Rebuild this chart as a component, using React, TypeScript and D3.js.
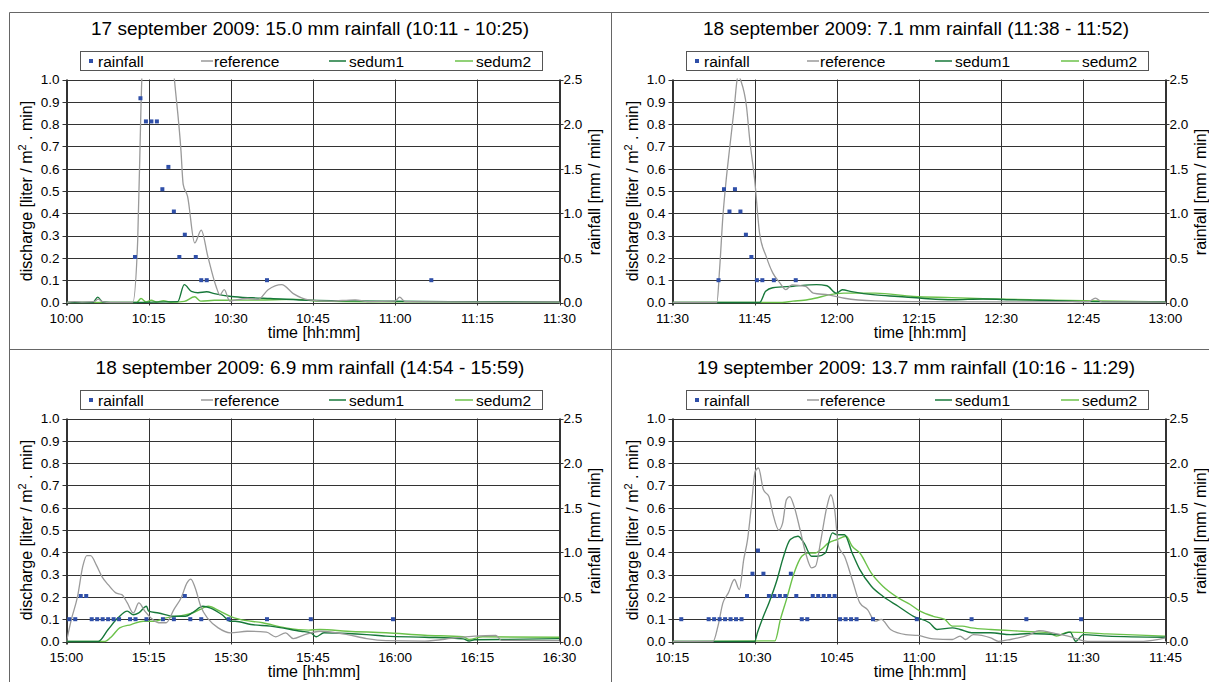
import React from 'react';
import * as d3 from 'd3';

const width = 1209;
const height = 682;
const font = '"Liberation Sans", Arial, sans-serif';

// series names + colours
const seriesNames = ['rainfall', 'reference', 'sedum1', 'sedum2'];
const colors = { rainfall: '#2f4fa8', reference: '#9a9a9a', sedum1: '#17783a', sedum2: '#6cc24a' };

const dischargeTicks = [0, 0.1, 0.2, 0.3, 0.4, 0.5, 0.6, 0.7, 0.8, 0.9, 1.0];
const rainTicks = [0, 0.5, 1.0, 1.5, 2.0, 2.5];

// ---- panel 1 : 17 sept 2009, 10:00 - 11:30  (minutes after start, value)
const p1Title = '17 september 2009: 15.0 mm rainfall (10:11 - 10:25)';
const p1Start = new Date(2009, 8, 17, 10, 0);
const p1Rain = [[12.5, 0.51], [13.5, 2.29], [14.5, 2.03], [15.5, 2.03], [16.5, 2.03], [17.5, 1.27], [18.6, 1.52], [19.6, 1.02], [20.6, 0.51], [21.6, 0.76], [23.6, 0.51], [24.6, 0.25], [25.6, 0.25], [36.6, 0.25], [66.6, 0.25]];
const p1Reference = [[0, 0], [1.5, 0.004], [3, 0.002], [5, 0.004], [5.8, 0.015], [6.6, 0.004], [8, 0], [12.1, 0], [13, 0.28], [13.6, 0.88], [14.2, 1.3], [16, 1.6], [18, 1.45], [19.7, 1.0], [20.9, 0.68], [21.3, 0.53], [22.1, 0.476], [23.4, 0.267], [24.6, 0.325], [25.8, 0.207], [27.3, 0.073], [28, 0.034], [28.8, 0.058], [29.8, 0.006], [31, 0.012], [33, 0.018], [35, 0.014], [36.8, 0.057], [39.3, 0.08], [41.4, 0.04], [44.2, 0.012], [48, 0.006], [52.7, 0.012], [55, 0.004], [60, 0.006], [60.8, 0.024], [61.8, 0.004], [70, 0.003], [80, 0.002], [90, 0.003]];
const p1Sedum1 = [[0, 0], [4.8, 0], [5.7, 0.024], [6.6, 0.002], [8, 0], [20.3, 0.004], [21.5, 0.08], [22.8, 0.05], [24, 0.044], [25.6, 0.048], [27, 0.04], [30.1, 0.027], [34, 0.021], [37.2, 0.018], [44.2, 0.01], [50, 0.008], [58, 0.006], [70, 0.004], [80, 0.004], [90, 0.003]];
const p1Sedum2 = [[0, 0], [12.8, 0], [13.6, 0.018], [14.5, 0.003], [15.5, 0.01], [16.4, 0.002], [17.7, 0.008], [19, 0.001], [21.5, 0.005], [23.4, 0.026], [24.5, 0.006], [27, 0.01], [35, 0.011], [42, 0.014], [46, 0.006], [55, 0.003], [70, 0.003], [90, 0.003]];

// ---- panel 2 : 18 sept 2009, 11:30 - 13:00
const p2Title = '18 september 2009: 7.1 mm rainfall (11:38 - 11:52)';
const p2Start = new Date(2009, 8, 18, 11, 30);
const p2Rain = [[8.4, 0.25], [9.4, 1.27], [10.4, 1.02], [11.4, 1.27], [12.4, 1.02], [13.4, 0.76], [14.4, 0.51], [15.4, 0.25], [16.4, 0.25], [18.5, 0.25], [22.5, 0.25]];
const p2Reference = [[0, 0], [8.1, 0], [8.6, 0.15], [9.2, 0.386], [9.8, 0.55], [10.4, 0.685], [11.3, 0.88], [11.8, 1.0], [12.1, 1.02], [12.4, 1.0], [13.5, 0.88], [14.1, 0.73], [15, 0.55], [15.9, 0.31], [17.1, 0.207], [18.3, 0.133], [19.6, 0.088], [20.7, 0.058], [21.8, 0.079], [24.3, 0.072], [25.7, 0.042], [28.5, 0.034], [31.4, 0.019], [37, 0.007], [44, 0.004], [60, 0.003], [76, 0.004], [77.2, 0.02], [78.4, 0.003], [90, 0.002]];
const p2Sedum1 = [[0, 0], [15.9, 0], [17, 0.05], [18.3, 0.066], [22, 0.073], [26.3, 0.08], [28.2, 0.075], [29.9, 0.042], [31, 0.057], [32.7, 0.049], [37, 0.034], [41.2, 0.027], [45.5, 0.019], [51.1, 0.012], [56.7, 0.016], [62.4, 0.012], [68.8, 0.009], [75.8, 0.004], [90, 0.002]];
const p2Sedum2 = [[0, 0], [20, 0], [22, 0.006], [24, 0.01], [26, 0.019], [28.5, 0.034], [31.3, 0.042], [37, 0.042], [44, 0.027], [51, 0.022], [58, 0.016], [65.3, 0.012], [72.3, 0.009], [90, 0.003]];

// ---- panel 3 : 18 sept 2009, 15:00 - 16:30
const p3Title = '18 september 2009: 6.9 mm rainfall (14:54 - 15:59)';
const p3Start = new Date(2009, 8, 18, 15, 0);
const p3Rain = [[0.5, 0.25], [1.6, 0.25], [2.6, 0.51], [3.6, 0.51], [4.6, 0.25], [5.6, 0.25], [6.6, 0.25], [7.6, 0.25], [8.6, 0.25], [9.6, 0.25], [11.6, 0.25], [12.6, 0.25], [14.6, 0.25], [17.6, 0.25], [19.6, 0.25], [21.6, 0.51], [22.6, 0.25], [24.6, 0.25], [29.6, 0.25], [36.6, 0.25], [44.6, 0.25], [59.6, 0.25]];
const p3Reference = [[0, 0], [0.9, 0.1], [2, 0.2], [3, 0.34], [3.7, 0.385], [4.4, 0.385], [5.5, 0.34], [6.5, 0.29], [7.6, 0.255], [9, 0.218], [10.1, 0.21], [11.1, 0.173], [12.2, 0.128], [13.2, 0.173], [14.3, 0.136], [15.4, 0.106], [16.8, 0.084], [18.2, 0.084], [19.6, 0.143], [21, 0.2], [22, 0.263], [22.7, 0.28], [23.5, 0.24], [24.5, 0.158], [25.9, 0.1], [27.7, 0.061], [29.9, 0.039], [33, 0.046], [36.5, 0.042], [38.2, 0.021], [40, 0.039], [41.4, 0.013], [43.5, 0.031], [46.3, 0.046], [51.3, 0.031], [54.8, 0.013], [58.3, 0.004], [65.4, 0.002], [71, 0.016], [74.5, 0.024], [78.4, 0.027], [79.4, 0.005], [90, 0.004]];
const p3Sedum1 = [[0, 0], [5.8, 0], [7.6, 0.054], [9.4, 0.106], [11.1, 0.136], [12.2, 0.12], [13.2, 0.128], [14.6, 0.158], [15, 0.136], [16.8, 0.128], [19.6, 0.113], [21.7, 0.113], [23.1, 0.131], [24.9, 0.158], [26.3, 0.15], [28.4, 0.12], [29.9, 0.091], [30.8, 0.091], [33.7, 0.076], [37.2, 0.069], [42.8, 0.046], [44.6, 0.039], [45.6, 0.021], [47, 0.039], [51.3, 0.036], [54.8, 0.031], [58.3, 0.024], [65.4, 0.019], [72.4, 0.012], [73.5, 0.002], [74.5, 0.008], [79.4, 0.009], [90, 0.013]];
const p3Sedum2 = [[0, 0], [7, 0], [8.3, 0.024], [9.7, 0.061], [11.8, 0.076], [14, 0.091], [16.1, 0.091], [18.2, 0.106], [21, 0.116], [23.1, 0.128], [24.9, 0.15], [25.9, 0.158], [28, 0.136], [29.9, 0.113], [31.5, 0.1], [35.8, 0.084], [40, 0.061], [44.2, 0.051], [46.3, 0.054], [51.3, 0.046], [58.3, 0.039], [65.4, 0.028], [72.4, 0.021], [73.5, 0.009], [76, 0.021], [90, 0.019]];

// ---- panel 4 : 19 sept 2009, 10:15 - 11:45
const p4Title = '19 september 2009: 13.7 mm rainfall (10:16 - 11:29)';
const p4Start = new Date(2009, 8, 19, 10, 15);
const p4Rain = [[1.6, 0.25], [6.6, 0.25], [7.6, 0.25], [8.6, 0.25], [9.6, 0.25], [10.6, 0.25], [11.6, 0.25], [12.6, 0.25], [13.6, 0.51], [14.6, 0.76], [15.6, 1.02], [16.6, 0.76], [17.6, 0.51], [18.6, 0.51], [19.6, 0.51], [20.6, 0.51], [21.6, 0.76], [22.6, 0.51], [23.6, 0.25], [24.6, 0.25], [25.6, 0.51], [26.6, 0.51], [27.6, 0.51], [28.6, 0.51], [29.6, 0.51], [30.6, 0.25], [31.6, 0.25], [32.6, 0.25], [33.6, 0.25], [36.6, 0.25], [44.6, 0.25], [54.6, 0.25], [64.6, 0.25], [74.6, 0.25]];
const p4Reference = [[0, 0], [7.4, 0], [8.3, 0.069], [9.2, 0.173], [10.2, 0.218], [11.3, 0.278], [12.2, 0.233], [13, 0.367], [13.7, 0.457], [14.4, 0.606], [15.1, 0.763], [15.7, 0.778], [16.6, 0.68], [17.6, 0.65], [18.3, 0.576], [19.4, 0.5], [20.1, 0.531], [20.8, 0.636], [21.4, 0.65], [22.2, 0.606], [23.3, 0.5], [24.3, 0.397], [25.4, 0.33], [26.1, 0.337], [27.1, 0.457], [28.2, 0.606], [28.9, 0.658], [29.6, 0.591], [30.3, 0.427], [31.4, 0.382], [32.8, 0.278], [34.2, 0.173], [35.6, 0.143], [37, 0.091], [38.1, 0.099], [39.8, 0.054], [42.6, 0.031], [44.8, 0.027], [47.6, 0.012], [51.1, 0.009], [52.5, 0.024], [53.5, 0.009], [54.9, 0.031], [58.1, 0.016], [59.5, 0.001], [61.7, 0.009], [65.2, 0.031], [66.9, 0.049], [69.4, 0.039], [72.2, 0.024], [75.8, 0.001], [86, 0.001], [90, 0.016]];
const p4Sedum1 = [[0, 0], [15, 0], [15.5, 0.039], [16.6, 0.113], [17.6, 0.173], [19.1, 0.278], [20.1, 0.367], [21.5, 0.457], [22.9, 0.472], [24, 0.442], [25.4, 0.382], [26.5, 0.382], [27.9, 0.397], [29.2, 0.487], [30, 0.479], [31.4, 0.479], [32.8, 0.397], [34.2, 0.322], [36.3, 0.248], [38.4, 0.203], [41.2, 0.158], [44, 0.113], [46.9, 0.084], [48.3, 0.054], [51.1, 0.061], [52.5, 0.054], [54.6, 0.039], [58.1, 0.039], [61.7, 0.031], [65.2, 0.036], [70.8, 0.031], [72.6, 0.042], [73.6, 0.001], [75, 0.031], [79.3, 0.024], [90, 0.019]];
const p4Sedum2 = [[0, 0], [18.7, 0.003], [19.7, 0.099], [20.8, 0.188], [22.2, 0.307], [23.6, 0.382], [24.7, 0.397], [26.1, 0.397], [27.1, 0.412], [28.5, 0.442], [30, 0.457], [31.7, 0.472], [32.8, 0.427], [34.2, 0.397], [36.3, 0.307], [38.4, 0.248], [41.2, 0.196], [43.4, 0.166], [45.2, 0.136], [47.6, 0.113], [49.7, 0.099], [51.1, 0.069], [52.9, 0.069], [54.6, 0.061], [58.1, 0.054], [63.8, 0.046], [68.7, 0.039], [70.1, 0.024], [72.2, 0.042], [79.3, 0.034], [90, 0.024]];

const panels = [
    { title: p1Title, start: p1Start, rain: p1Rain, reference: p1Reference, sedum1: p1Sedum1, sedum2: p1Sedum2, ox: 0, oy: 0 },
    { title: p2Title, start: p2Start, rain: p2Rain, reference: p2Reference, sedum1: p2Sedum1, sedum2: p2Sedum2, ox: 606, oy: 0 },
    { title: p3Title, start: p3Start, rain: p3Rain, reference: p3Reference, sedum1: p3Sedum1, sedum2: p3Sedum2, ox: 0, oy: 339 },
    { title: p4Title, start: p4Start, rain: p4Rain, reference: p4Reference, sedum1: p4Sedum1, sedum2: p4Sedum2, ox: 606, oy: 339 },
];

function Panel({ p, idx }) {
    const ox = p.ox, oy = p.oy;
    const left = 66.5 + ox, right = 559.5 + ox, top = 79.5 + oy, bottom = 302.5 + oy;

    const x = d3.scaleTime()
        .domain([p.start, d3.timeMinute.offset(p.start, 90)])
        .range([left, right]);
    const y = d3.scaleLinear().domain([0, 1]).range([bottom, top]);
    const yRain = d3.scaleLinear().domain([0, 2.5]).range([bottom, top]);
    const at = (m) => new Date(p.start.getTime() + m * 60000);
    const fmt = d3.timeFormat('%H:%M');
    const xTicks = x.ticks(d3.timeMinute.every(15));

    const line = d3.line()
        .x(d => x(at(d[0])))
        .y(d => y(d[1]))
        .curve(d3.curveMonotoneX);

    const clipId = 'clip' + idx;
    const lx = 80.5 + ox, ly = 51.5 + oy;

    return (
        <g fontFamily={font} fill="#000">
            <defs>
                <clipPath id={clipId}>
                    <rect x={left} y={top - 1} width={right - left} height={bottom - top + 2} />
                </clipPath>
            </defs>
            <text x={310 + ox} y={35 + oy} fontSize={19} textAnchor="middle">{p.title}</text>

            {/* legend */}
            <rect x={lx} y={ly} width={462} height={19} fill="white" stroke="#555" />
            <rect x={89 + ox} y={59 + oy} width={4} height={4} fill={colors.rainfall} />
            <text x={98 + ox} y={66.5 + oy} fontSize={15.5}>{seriesNames[0]}</text>
            <line x1={201 + ox} x2={213 + ox} y1={61 + oy} y2={61 + oy} stroke={colors.reference} strokeWidth={1.5} />
            <text x={214 + ox} y={66.5 + oy} fontSize={15.5}>{seriesNames[1]}</text>
            <line x1={329 + ox} x2={346 + ox} y1={61 + oy} y2={61 + oy} stroke={colors.sedum1} strokeWidth={1.5} />
            <text x={349 + ox} y={66.5 + oy} fontSize={15.5}>{seriesNames[2]}</text>
            <line x1={455 + ox} x2={473 + ox} y1={61 + oy} y2={61 + oy} stroke={colors.sedum2} strokeWidth={1.5} />
            <text x={476 + ox} y={66.5 + oy} fontSize={15.5}>{seriesNames[3]}</text>

            {/* grid */}
            {dischargeTicks.map(t => (
                <line key={'h' + t} x1={left} x2={right} y1={Math.round(y(t)) + 0.5} y2={Math.round(y(t)) + 0.5} stroke="#333" strokeWidth={1} />
            ))}
            {xTicks.map(t => (
                <line key={'v' + t.getTime()} x1={Math.round(x(t)) + 0.5} x2={Math.round(x(t)) + 0.5} y1={top} y2={bottom + 3} stroke="#333" strokeWidth={1} />
            ))}

            {/* left axis */}
            <line x1={left} x2={left} y1={top} y2={bottom + 3} stroke="#333" />
            {dischargeTicks.map(t => (
                <g key={'l' + t}>
                    <line x1={left - 4} x2={left} y1={Math.round(y(t)) + 0.5} y2={Math.round(y(t)) + 0.5} stroke="#333" />
                    <text x={left - 7} y={y(t)} dy="0.36em" fontSize={13.5} textAnchor="end">{t.toFixed(1)}</text>
                </g>
            ))}
            {/* right axis */}
            <line x1={right} x2={right} y1={top} y2={bottom} stroke="#333" />
            {rainTicks.map(t => (
                <g key={'r' + t}>
                    <line x1={right} x2={right + 4} y1={Math.round(yRain(t)) + 0.5} y2={Math.round(yRain(t)) + 0.5} stroke="#333" />
                    <text x={right + 4} y={yRain(t)} dy="0.36em" fontSize={13.5}>{t.toFixed(1)}</text>
                </g>
            ))}
            {xTicks.map(t => (
                <text key={'xt' + t.getTime()} x={x(t)} y={323 + oy} fontSize={13.5} textAnchor="middle">{fmt(t)}</text>
            ))}

            {/* axis titles */}
            <text x={314 + ox} y={338 + oy} fontSize={16} textAnchor="middle">time [hh:mm]</text>
            <text transform={`translate(${26 + ox},${191 + oy}) rotate(-90)`} fontSize={16} textAnchor="middle" dy="0.35em">
                discharge [liter / m<tspan fontSize={11} dy={-6}>2</tspan><tspan dy={6}> . min]</tspan>
            </text>
            <text transform={`translate(${594 + ox},${192 + oy}) rotate(-90)`} fontSize={16} textAnchor="middle" dy="0.35em">rainfall [mm / min]</text>

            {/* series */}
            <g clipPath={`url(#${clipId})`} fill="none">
                <path d={line(p.sedum2)} stroke={colors.sedum2} strokeWidth={1.4} />
                <path d={line(p.sedum1)} stroke={colors.sedum1} strokeWidth={1.4} />
                <path d={line(p.reference)} stroke={colors.reference} strokeWidth={1.3} />
            </g>
            {p.rain.map((d, i) => (
                <rect key={'rn' + i} x={x(at(d[0])) - 2} y={yRain(d[1]) - 2} width={4} height={4} fill={colors.rainfall} />
            ))}
        </g>
    );
}

export default function App() {
    return (
        <div style={{ position: 'absolute', left: 0, top: 0 }}>
            <svg width={width} height={height} style={{ display: 'block', background: 'white' }}>
                <rect width={width} height={height} fill="white" />
                {/* frame and dividers */}
                <line x1={9.5} x2={width} y1={12.5} y2={12.5} stroke="#666" />
                <line x1={9.5} x2={9.5} y1={12.5} y2={height} stroke="#666" />
                <line x1={611.5} x2={611.5} y1={12.5} y2={height} stroke="#666" />
                <line x1={9.5} x2={width} y1={349.5} y2={349.5} stroke="#666" />
                {panels.map((p, i) => <Panel key={i} p={p} idx={i} />)}
            </svg>
        </div>
    );
}
